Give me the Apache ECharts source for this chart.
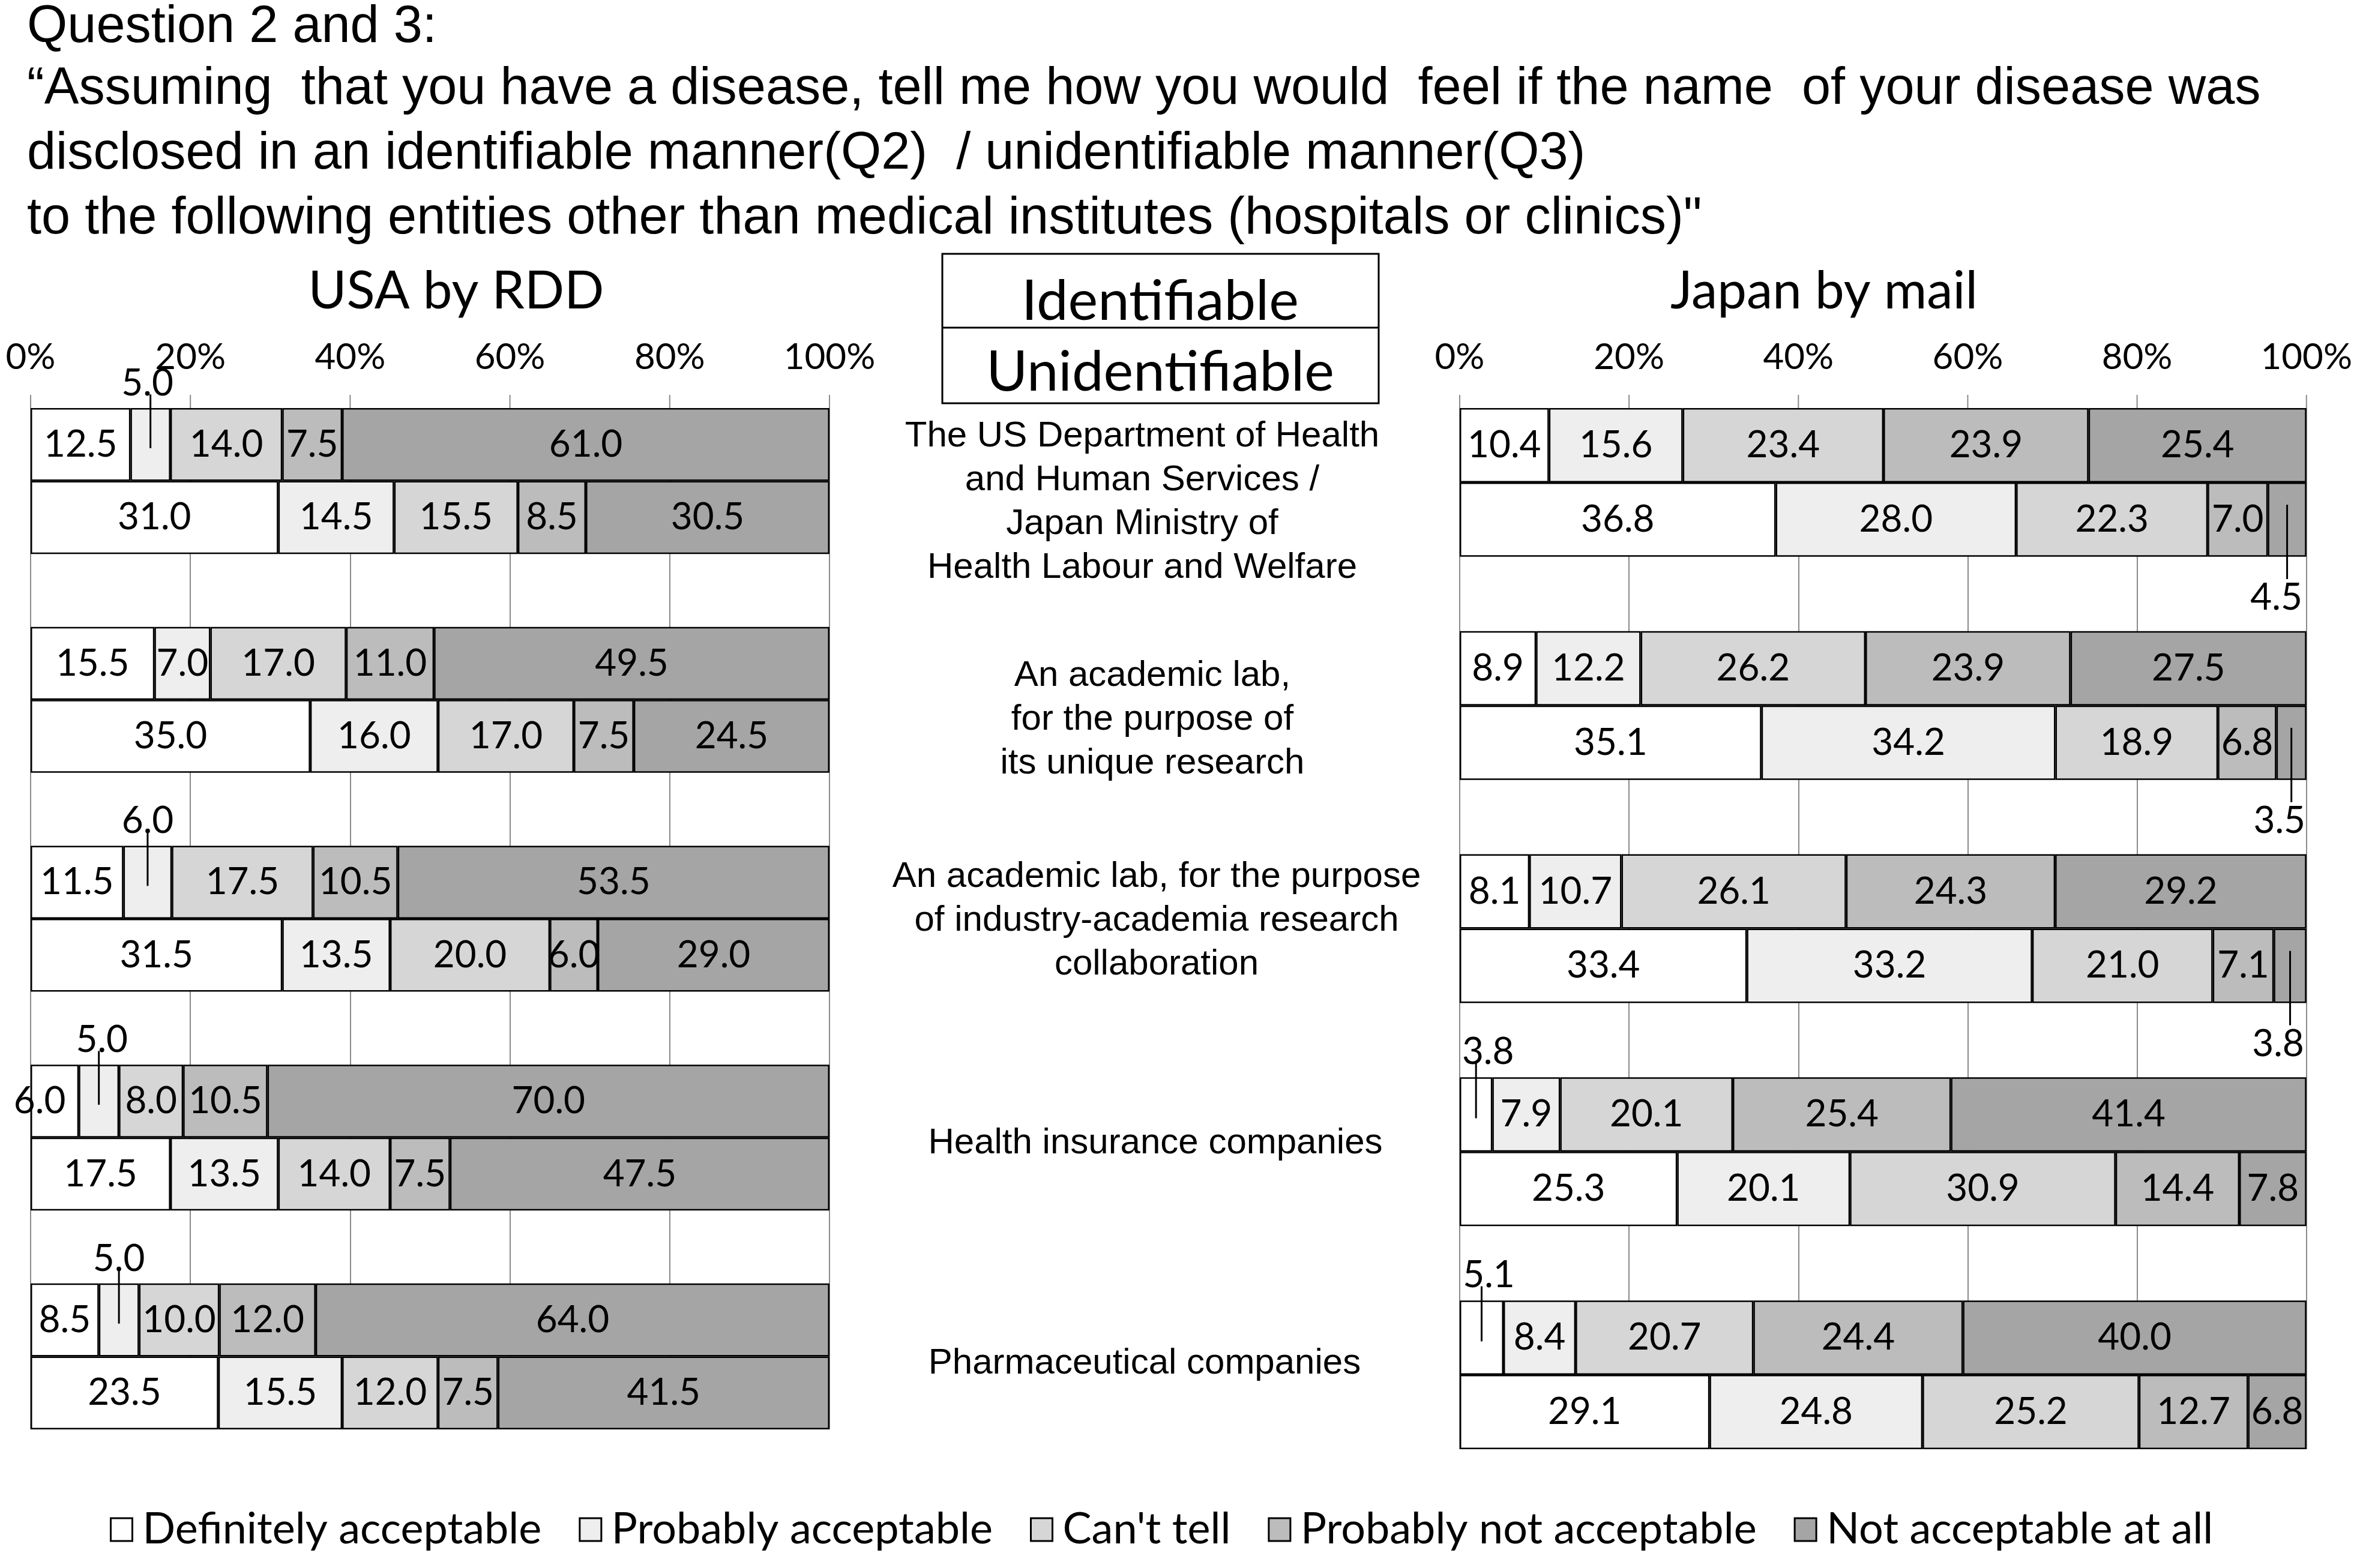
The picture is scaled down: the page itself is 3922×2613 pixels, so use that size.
<!DOCTYPE html>
<html>
<head>
<meta charset="utf-8">
<script src="https://cdn.jsdelivr.net/npm/echarts@6/dist/echarts.min.js"></script>
<style>html,body{margin:0;padding:0;background:#fff;}#c{width:3922px;height:2613px;}</style>
</head>
<body>
<div id="c"></div>
<script>
// ---------- data ----------
const titleLines = [
  'Question 2 and 3:',
  '\u201cAssuming  that you have a disease, tell me how you would  feel if the name  of your disease was',
  'disclosed in an identifiable manner(Q2)  / unidentifiable manner(Q3)',
  'to the following entities other than medical institutes (hospitals or clinics)"'
];
const panelTitles = ['USA by RDD', 'Japan by mail'];
const rowTypes = ['Identifiable', 'Unidentifiable'];
const entities = [
  'The US Department of Health\nand Human Services /\nJapan Ministry of\nHealth Labour and Welfare',
  'An academic lab,\nfor the purpose of\nits unique research',
  'An academic lab, for the purpose\nof industry-academia research\ncollaboration',
  'Health insurance companies',
  'Pharmaceutical companies'
];
const responses = ['Definitely acceptable', 'Probably acceptable', "Can't tell", 'Probably not acceptable', 'Not acceptable at all'];
const tickValues = [0, 20, 40, 60, 80, 100];

// rows: entity1 Id, entity1 Un, entity2 Id, entity2 Un, ...
const usaDefinitely = [12.5, 31.0, 15.5, 35.0, 11.5, 31.5, 6.0, 17.5, 8.5, 23.5];
const usaProbably   = [5.0, 14.5, 7.0, 16.0, 6.0, 13.5, 5.0, 13.5, 5.0, 15.5];
const usaCantTell   = [14.0, 15.5, 17.0, 17.0, 17.5, 20.0, 8.0, 14.0, 10.0, 12.0];
const usaProbNot    = [7.5, 8.5, 11.0, 7.5, 10.5, 6.0, 10.5, 7.5, 12.0, 7.5];
const usaNotAtAll   = [61.0, 30.5, 49.5, 24.5, 53.5, 29.0, 70.0, 47.5, 64.0, 41.5];

const jpDefinitely = [10.4, 36.8, 8.9, 35.1, 8.1, 33.4, 3.8, 25.3, 5.1, 29.1];
const jpProbably   = [15.6, 28.0, 12.2, 34.2, 10.7, 33.2, 7.9, 20.1, 8.4, 24.8];
const jpCantTell   = [23.4, 22.3, 26.2, 18.9, 26.1, 21.0, 20.1, 30.9, 20.7, 25.2];
const jpProbNot    = [23.9, 7.0, 23.9, 6.8, 24.3, 7.1, 25.4, 14.4, 24.4, 12.7];
const jpNotAtAll   = [25.4, 4.5, 27.5, 3.5, 29.2, 3.8, 41.4, 7.8, 40.0, 6.8];

// ---------- layout / style config ----------
const colors = ['#ffffff', '#eeeeee', '#d6d6d6', '#bcbcbc', '#a5a5a5'];
const LBL = 62;
const numFont = 'Lato';
const gridColor = '#8a8a8a';
// small segments whose labels sit outside the bar with a leader line
const usaCallouts = [
  {row: 0, s: 1, side: -1, dx: -5},
  {row: 4, s: 1, side: -1, dx: 0},
  {row: 6, s: 1, side: -1, dx: 5},
  {row: 8, s: 1, side: -1, dx: 0}
];
const jpCallouts = [
  {row: 1, s: 4, side: 1, dx: -18},
  {row: 3, s: 4, side: 1, dx: -20},
  {row: 5, s: 4, side: 1, dx: -20},
  {row: 6, s: 0, side: -1, dx: 20},
  {row: 8, s: 0, side: -1, dx: 12}
];
const usaShifts = [{row: 6, s: 0, dx: -25}];
const jpShifts = [];

// ---------- build ----------
const categories = [];
const rowToCat = [];
entities.forEach((e, g) => {
  rowTypes.forEach((t, k) => { rowToCat.push(categories.length); categories.push(e.replace(/\n/g, ' ') + ' - ' + t); });
  if (g < entities.length - 1) categories.push('gap' + g);
});

function buildPanel(sets, callouts, shifts, gi) {
  const nRows = sets[0].length;
  const totals = [];
  for (let r = 0; r < nRows; r++) totals.push(sets.reduce((a, s) => a + s[r], 0));
  const series = sets.map((vals, si) => {
    const data = categories.map(() => '-');
    vals.forEach((v, r) => {
      const item = {value: v / totals[r] * 100, raw: v};
      if (callouts.some(c => c.row === r && c.s === si)) item.label = {show: false};
      const sh = shifts.find(c => c.row === r && c.s === si);
      if (sh) item.label = {offset: [sh.dx, 0]};
      data[rowToCat[r]] = item;
    });
    return {
      type: 'bar', name: responses[si], stack: 'p' + gi,
      xAxisIndex: gi, yAxisIndex: gi,
      barCategoryGap: '0%', barWidth: '100%',
      itemStyle: {color: colors[si], borderColor: '#000', borderWidth: 2.5},
      label: {show: true, position: 'inside', color: '#000', fontSize: LBL, fontFamily: numFont,
              formatter: p => p.data.raw.toFixed(1)},
      emphasis: {disabled: true},
      animation: false,
      data
    };
  });
  const cData = callouts.map(c => {
    let before = 0;
    for (let i = 0; i < c.s; i++) before += sets[i][c.row];
    const v = sets[c.s][c.row];
    const center = (before + v / 2) / totals[c.row] * 100;
    return [center, rowToCat[c.row], v, c.side, c.dx];
  });
  series.push({
    type: 'custom', xAxisIndex: gi, yAxisIndex: gi, z: 10, animation: false, silent: true,
    encode: {x: 0, y: 1},
    data: cData,
    renderItem: (params, api) => {
      const p = api.coord([api.value(0), api.value(1)]);
      const band = api.size([0, 1])[1];
      const side = api.value(3);
      const ly = p[1] + (side < 0 ? -0.84 : 1.05) * band;
      const lx = p[0] + api.value(4);
      let y1, y2;
      if (side < 0) { y1 = ly + 0.3 * LBL; y2 = p[1] + 0.05 * band; }
      else { y1 = p[1] - 0.2 * band; y2 = ly - 0.5 * LBL; }
      return {type: 'group', children: [
        {type: 'line', shape: {x1: p[0], y1: y1, x2: p[0], y2: y2}, style: {stroke: '#000', lineWidth: 3}},
        {type: 'text', x: lx, y: ly, style: {text: api.value(2).toFixed(1), fontSize: LBL, fontFamily: numFont,
          fill: '#000', align: 'center', verticalAlign: 'middle'}}
      ]};
    }
  });
  // short extension of the vertical gridlines above the first bar
  series.push({
    type: 'custom', xAxisIndex: gi, yAxisIndex: gi, z: 1, animation: false, silent: true, clip: false,
    encode: {x: 0, y: 1},
    data: tickValues.map(v => [v, 0]),
    renderItem: (params, api) => {
      const p = api.coord([api.value(0), 0]);
      const band = api.size([0, 1])[1];
      const top = p[1] - band / 2;
      return {type: 'line', shape: {x1: p[0], y1: top - 22, x2: p[0], y2: top}, style: {stroke: gridColor, lineWidth: 2}};
    }
  });
  return series;
}

const usaSeries = buildPanel([usaDefinitely, usaProbably, usaCantTell, usaProbNot, usaNotAtAll], usaCallouts, usaShifts, 0);
const jpSeries = buildPanel([jpDefinitely, jpProbably, jpCantTell, jpProbNot, jpNotAtAll], jpCallouts, jpShifts, 1);

function xAx(gi) {
  return {
    type: 'value', gridIndex: gi, position: 'top', min: tickValues[0], max: tickValues[tickValues.length - 1],
    interval: tickValues[1] - tickValues[0],
    axisLine: {show: false}, axisTick: {show: false},
    axisLabel: {formatter: '{value}%', fontSize: 60, fontFamily: numFont, color: '#000', margin: 54},
    splitLine: {show: true, lineStyle: {color: gridColor, width: 2}}
  };
}
function yAx(gi) {
  return {
    type: 'category', gridIndex: gi, inverse: true, data: categories,
    axisLine: {show: false}, axisTick: {show: false}, axisLabel: {show: false}, splitLine: {show: false}
  };
}

const graphics = [];
titleLines.forEach((t, i) => {
  graphics.push({type: 'text', x: 45, y: [46, 149, 257, 365][i],
    style: {text: t, fontSize: 86.5, fontFamily: 'Liberation Sans', fill: '#000', align: 'left', verticalAlign: 'middle'}});
});
[[760, panelTitles[0]], [3039, panelTitles[1]]].forEach(([x, t]) => {
  graphics.push({type: 'text', x: x, y: 486,
    style: {text: t, fontSize: 87, fontFamily: numFont, fill: '#000', align: 'center', verticalAlign: 'middle'}});
});
graphics.push({type: 'rect', shape: {x: 1570, y: 423, width: 727, height: 249}, style: {fill: 'none', stroke: '#000', lineWidth: 3}});
graphics.push({type: 'line', shape: {x1: 1570, y1: 546, x2: 2297, y2: 546}, style: {stroke: '#000', lineWidth: 3}});
graphics.push({type: 'text', x: 1933, y: 503, style: {text: rowTypes[0], fontSize: 94, fontFamily: numFont, fill: '#000', align: 'center', verticalAlign: 'middle'}});
graphics.push({type: 'text', x: 1933, y: 621, style: {text: rowTypes[1], fontSize: 94, fontFamily: numFont, fill: '#000', align: 'center', verticalAlign: 'middle'}});
const entPos = [[1903, 837], [1920, 1199], [1927, 1534], [1925, 1905], [1907, 2272]];
entities.forEach((e, i) => {
  graphics.push({type: 'text', x: entPos[i][0], y: entPos[i][1],
    style: {text: e, fontSize: 60, lineHeight: 73, fontFamily: 'Liberation Sans', fill: '#000', align: 'center', verticalAlign: 'middle'}});
});

const option = {
  backgroundColor: '#fff',
  animation: false,
  grid: [
    {left: 51, top: 680, width: 1331, height: 1702, containLabel: false},
    {left: 2432, top: 680, width: 1421, height: 1735, containLabel: false}
  ],
  xAxis: [xAx(0), xAx(1)],
  yAxis: [yAx(0), yAx(1)],
  legend: {
    data: responses, left: 178, top: 2508, itemWidth: 36, itemHeight: 38, itemGap: 62,
    icon: 'rect', selectedMode: false,
    itemStyle: {borderColor: '#000', borderWidth: 3},
    textStyle: {fontSize: 72, fontFamily: numFont, color: '#000', padding: [0, 0, 0, 12]}
  },
  graphic: graphics,
  series: usaSeries.concat(jpSeries)
};

const chart = echarts.init(document.getElementById('c'), null, {renderer: 'canvas'});
chart.setOption(option);
</script>
</body>
</html>
